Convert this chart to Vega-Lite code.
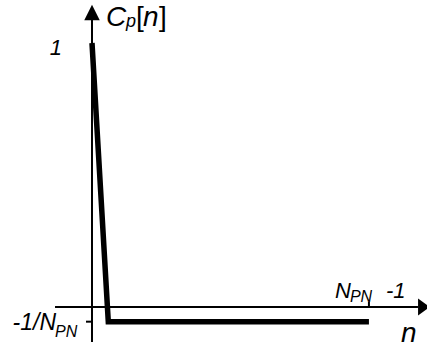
{
  "$schema": "https://vega.github.io/schema/vega-lite/v6.json",
  "width": 427,
  "height": 342,
  "autosize": {"type": "none"},
  "padding": 0,
  "background": "white",
  "config": {"view": {"stroke": null}, "text": {"font": "Liberation Sans", "color": "black", "baseline": "alphabetic"}},
  "datasets": {
    "curve": [{"n": 0, "cp": 1}, {"n": 1, "cp": -0.0556}, {"n": 17, "cp": -0.0556}],
    "axes": [
      {"n": -2.27, "n2": 20.01, "cp": 0, "cp2": 0},
      {"n": 0, "n2": 0, "cp": -0.1326, "cp2": 1.095},
      {"n": -0.37, "n2": 0, "cp": -0.0556, "cp2": -0.0556},
      {"n": 17, "n2": 17, "cp": 0, "cp2": 0.019}
    ],
    "arrowUp": [{"n": 0, "cp": 1.1155}],
    "arrowRight": [{"n": 20.38, "cp": 0}],
    "one": [{"n": 0, "cp": 1}],
    "minus": [{"n": 0, "cp": -0.0556}],
    "last": [{"n": 17, "cp": 0}]
  },
  "encoding": {
    "x": {"field": "n", "type": "quantitative", "scale": {"domain": [-5.6476, 20.5647], "nice": false, "zero": false}, "axis": null},
    "y": {"field": "cp", "type": "quantitative", "scale": {"domain": [-0.13258, 1.16288], "nice": false, "zero": false}, "axis": null}
  },
  "layer": [
    {
      "data": {"name": "axes"},
      "mark": {"type": "rule", "color": "black", "strokeWidth": 2},
      "encoding": {"x2": {"field": "n2"}, "y2": {"field": "cp2"}}
    },
    {
      "data": {"name": "arrowUp"},
      "mark": {"type": "point", "shape": "M-1,1L0,-1L1,1Z", "size": 240, "filled": true, "color": "black", "opacity": 1, "strokeWidth": 0}
    },
    {
      "data": {"name": "arrowRight"},
      "mark": {"type": "point", "shape": "M-0.7,-1L0.7,0L-0.7,1Z", "size": 289, "filled": true, "color": "black", "opacity": 1, "strokeWidth": 0}
    },
    {
      "data": {"name": "curve"},
      "mark": {"type": "line", "color": "black", "strokeWidth": 5.5, "strokeCap": "butt", "strokeJoin": "miter"}
    },
    {
      "data": {"name": "one"},
      "mark": {"type": "text", "text": "1", "fontSize": 22, "fontStyle": "italic", "align": "center", "dx": -36, "dy": 12}
    },
    {
      "data": {"name": "one"},
      "mark": {"type": "text", "text": "C", "fontSize": 28, "fontStyle": "italic", "align": "left", "dx": 14, "dy": -17}
    },
    {
      "data": {"name": "one"},
      "mark": {"type": "text", "text": "p", "fontSize": 18, "fontStyle": "italic", "align": "left", "dx": 34, "dy": -16}
    },
    {
      "data": {"name": "one"},
      "mark": {"type": "text", "text": "[", "fontSize": 28, "align": "left", "dx": 44, "dy": -17}
    },
    {
      "data": {"name": "one"},
      "mark": {"type": "text", "text": "n", "fontSize": 28, "fontStyle": "italic", "align": "left", "dx": 51, "dy": -17}
    },
    {
      "data": {"name": "one"},
      "mark": {"type": "text", "text": "]", "fontSize": 28, "align": "left", "dx": 67, "dy": -17}
    },
    {
      "data": {"name": "minus"},
      "mark": {"type": "text", "text": "-1/N", "fontSize": 23, "fontStyle": "italic", "align": "right", "dx": -36, "dy": 8.3}
    },
    {
      "data": {"name": "minus"},
      "mark": {"type": "text", "text": "PN", "fontSize": 16, "fontStyle": "italic", "align": "left", "dx": -37, "dy": 15.3}
    },
    {
      "data": {"name": "last"},
      "mark": {"type": "text", "text": "N", "fontSize": 22, "fontStyle": "italic", "align": "left", "dx": -34, "dy": -9}
    },
    {
      "data": {"name": "last"},
      "mark": {"type": "text", "text": "PN", "fontSize": 16, "fontStyle": "italic", "align": "left", "dx": -19, "dy": -5}
    },
    {
      "data": {"name": "last"},
      "mark": {"type": "text", "text": "-1", "fontSize": 22, "fontStyle": "italic", "align": "left", "dx": 17, "dy": -9}
    },
    {
      "data": {"name": "last"},
      "mark": {"type": "text", "text": "n", "fontSize": 28, "fontStyle": "italic", "align": "left", "dx": 32, "dy": 35}
    }
  ]
}
